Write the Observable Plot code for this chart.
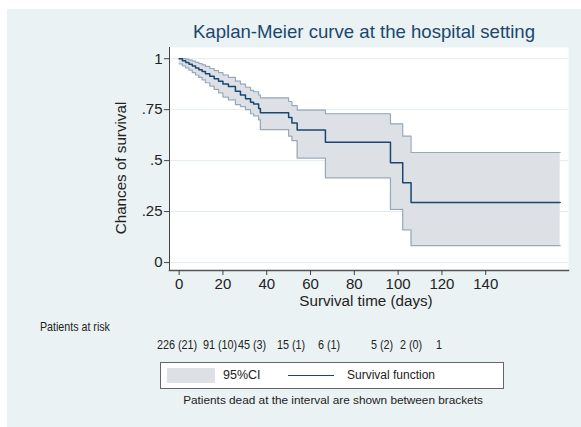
<!DOCTYPE html>
<html>
<head>
<meta charset="utf-8">
<script src="https://cdn.jsdelivr.net/npm/d3@7"></script>
<script src="https://cdn.jsdelivr.net/npm/@observablehq/plot@0.6"></script>
<style>
  html, body { margin: 0; padding: 0; background: #ffffff; }
  #page { position: relative; width: 581px; height: 427px; overflow: hidden; font-family: "Liberation Sans", Arial, Helvetica, sans-serif; color: #222; }
  #panel { position: absolute; left: 7px; top: 9px; right: 0; bottom: 0; background: #eaf2f3; }
  #chart { position: absolute; left: 0; top: 0; }
  .abs { position: absolute; white-space: pre; line-height: 1; }
  #title { left: 364px; top: 23px; font-size: 18.6px; color: #1a476f; transform: translateX(-50%); }
  #ylab { left: 121px; top: 168px; font-size: 15.2px; transform: translate(-50%, -50%) rotate(-90deg); }
  #xlab { left: 366px; top: 293px; font-size: 15.2px; transform: translateX(-50%); }
  #risktitle { left: 40px; top: 320px; font-size: 13px; transform: scaleX(0.82); transform-origin: left center; }
  .risk { top: 338px; font-size: 13.5px; transform: translateX(-50%) scaleX(0.8); }
  #legend { position: absolute; left: 160px; top: 362px; width: 342px; height: 25px; background: #fff; border: 1px solid #666; }
  #swatch { position: absolute; left: 6px; top: 5px; width: 48px; height: 15px; background: #dde1e6; }
  #lgci { left: 62px; top: 6px; font-size: 12.5px; }
  #lgline { position: absolute; left: 127px; top: 12px; width: 46px; height: 0; border-top: 1.5px solid #1a476f; }
  #lgsurv { left: 186px; top: 6px; font-size: 12px; }
  #caption { left: 333px; top: 395px; font-size: 11.8px; transform: translateX(-50%); }
</style>
</head>
<body>
<div id="page">
  <div id="panel"></div>
  <div id="chart"></div>
  <div class="abs" id="title">Kaplan-Meier curve at the hospital setting</div>
  <div class="abs" id="ylab">Chances of survival</div>
  <div class="abs" id="xlab">Survival time (days)</div>
  <div class="abs" id="risktitle">Patients at risk</div>
  <div id="legend">
    <div id="swatch"></div>
    <div class="abs" id="lgci">95%CI</div>
    <div id="lgline"></div>
    <div class="abs" id="lgsurv">Survival function</div>
  </div>
  <div class="abs" id="caption">Patients dead at the interval are shown between brackets</div>
</div>
<script>
// ---- data ----
const days  = [0, 1.5, 3, 4.5, 6, 7.5, 9, 10.5, 12, 14, 16, 18, 20, 22.5, 25.7, 28, 30.3, 32.6, 34, 36.3, 37.1, 50, 51.5, 53.9, 66.8, 96.5, 102.1, 105.9, 174];
const surv  = [1, 0.99, 0.982, 0.973, 0.964, 0.955, 0.946, 0.937, 0.926, 0.914, 0.902, 0.89, 0.876, 0.864, 0.84, 0.822, 0.803, 0.787, 0.778, 0.756, 0.735, 0.712, 0.685, 0.65, 0.59, 0.49, 0.392, 0.294, 0.294];
const upper = [1, 1, 0.998, 0.993, 0.988, 0.982, 0.976, 0.97, 0.962, 0.952, 0.942, 0.932, 0.92, 0.908, 0.89, 0.875, 0.86, 0.845, 0.838, 0.822, 0.808, 0.79, 0.77, 0.748, 0.73, 0.68, 0.62, 0.54, 0.54];
const lower = [0.975, 0.965, 0.955, 0.944, 0.932, 0.92, 0.908, 0.896, 0.882, 0.866, 0.85, 0.832, 0.812, 0.798, 0.775, 0.765, 0.75, 0.73, 0.72, 0.7, 0.652, 0.62, 0.598, 0.512, 0.415, 0.261, 0.16, 0.083, 0.083];
const xTicks = [0, 20, 40, 60, 80, 100, 120, 140];
const yTicks = [0, 0.25, 0.5, 0.75, 1];
const yTickLabels = ["0", ".25", ".5", ".75", "1"];
const riskLabels = ["226 (21)", "91 (10)", "45 (3)", "15 (1)", "6 (1)", "5 (2)", "2 (0)", "1"];

// ---- layout (not data): centres of the risk-table texts, in page pixels ----
const riskCenter = [176.5, 219.5, 252, 290.5, 329, 382, 410.5, 438.5];

const data = days.map((t, i) => ({t, s: surv[i], hi: upper[i], lo: lower[i]}));
const yLabelOf = new Map(yTicks.map((v, i) => [v, yTickLabels[i]]));

const chart = Plot.plot({
  width: 581,
  height: 320,
  marginLeft: 169,
  marginRight: 13,
  marginTop: 47,
  marginBottom: 50,
  x: {domain: [-4.4, 177.8]},
  y: {domain: [-0.039, 1.055]},
  style: {background: "transparent", fontFamily: "'Liberation Sans', Arial, Helvetica, sans-serif", fontSize: "15px", color: "#222"},
  marks: [
    Plot.frame({fill: "white", stroke: "none"}),
    Plot.gridY(yTicks, {stroke: "#e1ebef", strokeOpacity: 1}),
    Plot.areaY(data, {x: "t", y1: "lo", y2: "hi", curve: "step-after", fill: "#dde1e6"}),
    Plot.lineY(data, {x: "t", y: "hi", curve: "step-after", stroke: "#97a8ba", strokeWidth: 1.2}),
    Plot.lineY(data, {x: "t", y: "lo", curve: "step-after", stroke: "#97a8ba", strokeWidth: 1.2}),
    Plot.lineY(data, {x: "t", y: "s", curve: "step-after", stroke: "#1a476f", strokeWidth: 1.5}),
    Plot.frame({anchor: "left", stroke: "#444", strokeWidth: 1}),
    Plot.frame({anchor: "bottom", stroke: "#555", strokeWidth: 1.5}),
    Plot.axisX(xTicks, {tickSize: 5, tickPadding: 3, label: null, stroke: "#444", fontSize: 15}),
    Plot.axisY(yTicks, {tickSize: 5, tickPadding: 2, label: null, stroke: "#444", fontSize: 15, tickFormat: d => yLabelOf.get(d)})
  ]
});
document.getElementById("chart").appendChild(chart);

const page = document.getElementById("page");
riskLabels.forEach((txt, i) => {
  const el = document.createElement("div");
  el.className = "abs risk";
  el.style.left = riskCenter[i] + "px";
  el.textContent = txt;
  page.appendChild(el);
});
</script>
</body>
</html>
